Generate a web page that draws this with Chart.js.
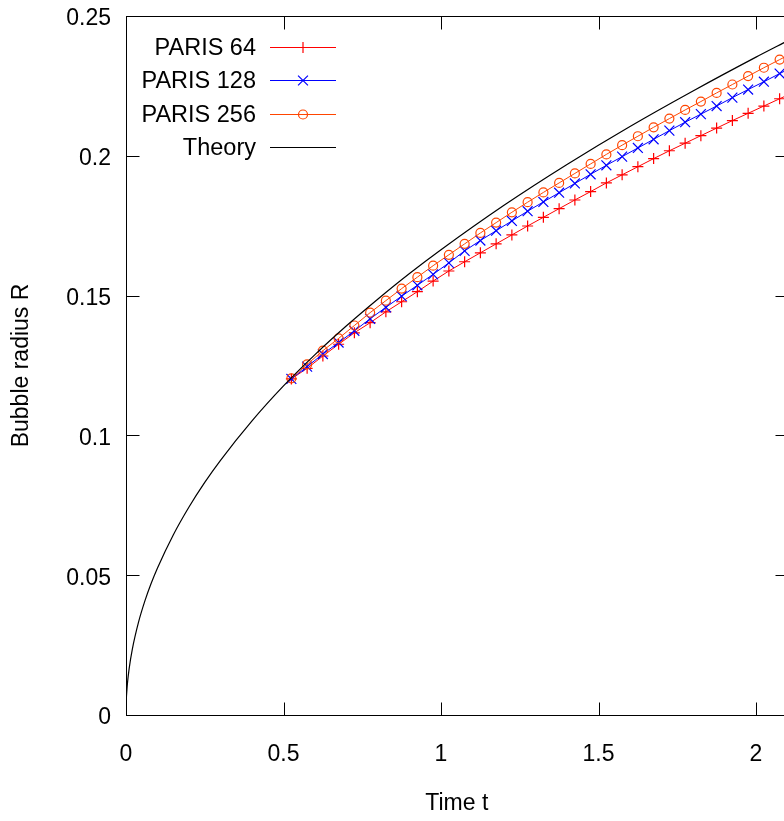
<!DOCTYPE html>
<html>
<head>
<meta charset="utf-8">
<title>Bubble radius</title>
<script src="https://cdn.jsdelivr.net/npm/chart.js@4.4.1/dist/chart.umd.min.js"></script>
<style>
  html, body { margin: 0; padding: 0; background: #fff; overflow: hidden; }
  #wrap { width: 800px; height: 821px; }
</style>
</head>
<body>
<div id="wrap"><canvas id="chart"></canvas></div>
<script>
// simulation output times (same for all three resolutions)
const simTimes = [0.525, 0.575, 0.625, 0.675, 0.725, 0.775, 0.825, 0.875, 0.925, 0.975,
  1.025, 1.075, 1.125, 1.175, 1.225, 1.275, 1.325, 1.375, 1.425, 1.475,
  1.525, 1.575, 1.625, 1.675, 1.725, 1.775, 1.825, 1.875, 1.925, 1.975,
  2.025, 2.075, 2.125];

const paris64 = [0.1202, 0.1240, 0.1284, 0.1326, 0.1367, 0.1403, 0.1442, 0.1478, 0.1514, 0.1552,
  0.1588, 0.1621, 0.1653, 0.1685, 0.1717, 0.1749, 0.1780, 0.1811, 0.1842, 0.1872,
  0.1903, 0.1932, 0.1961, 0.1990, 0.2018, 0.2045, 0.2072, 0.2099, 0.2126, 0.2152,
  0.2178, 0.2204, 0.2230];

const paris128 = [0.1202, 0.1246, 0.1291, 0.1332, 0.1374, 0.1417, 0.1458, 0.1498, 0.1537, 0.1576,
  0.1617, 0.1660, 0.1697, 0.1732, 0.1767, 0.1802, 0.1835, 0.1868, 0.1901, 0.1934,
  0.1966, 0.1997, 0.2028, 0.2059, 0.2090, 0.2120, 0.2149, 0.2178, 0.2208, 0.2237,
  0.2265, 0.2294, 0.2322];

const paris256 = [0.1204, 0.1254, 0.1303, 0.1347, 0.1393, 0.1439, 0.1482, 0.1525, 0.1566, 0.1607,
  0.1646, 0.1685, 0.1724, 0.1761, 0.1798, 0.1834, 0.1869, 0.1903, 0.1937, 0.1971,
  0.2005, 0.2038, 0.2070, 0.2102, 0.2133, 0.2164, 0.2194, 0.2225, 0.2255, 0.2285,
  0.2315, 0.2344, 0.2373];

// theory curve
const theoryTimes = [0, 0.001, 0.003, 0.005, 0.01, 0.02, 0.04, 0.06, 0.08, 0.1, 0.15, 0.2, 0.25,
  0.3, 0.4, 0.5, 0.6, 0.7, 0.8, 0.9, 1.0, 1.2, 1.4, 1.6, 1.8, 2.0, 2.1];
const theoryRadius = [0, 0.0053, 0.0091, 0.0118, 0.0166, 0.0235, 0.0333, 0.0408, 0.0471, 0.0526, 0.0644, 0.0744, 0.0832,
  0.0911, 0.1052, 0.1177, 0.1289, 0.1392, 0.1488, 0.1579, 0.1664, 0.1823, 0.1969, 0.2105, 0.2232, 0.2353, 0.2411];

const xTicks = [0, 0.5, 1, 1.5, 2];
const yTicks = [0, 0.05, 0.1, 0.15, 0.2, 0.25];

function pairs(xs, ys) {
  return xs.map((x, i) => ({ x: x, y: ys[i] }));
}

const FONT = "'Liberation Sans', Arial, sans-serif";
Chart.defaults.font.family = FONT;
Chart.defaults.font.size = 23;
Chart.defaults.color = "#000";

// gnuplot-like frame with inward ticks, and the key in the top left corner
const framePlugin = {
  id: "frame",
  afterDraw(chart) {
    const { ctx, chartArea: a, scales } = chart;
    const L = Math.round(a.left) + 0.5, R = Math.round(a.right) + 0.5;
    const T = Math.round(a.top) + 0.5, B = Math.round(a.bottom) + 0.5;
    ctx.save();
    ctx.strokeStyle = "#000";
    ctx.lineWidth = 1;
    ctx.strokeRect(L, T, R - L, B - T);
    ctx.beginPath();
    xTicks.forEach(v => {
      const px = Math.round(scales.x.getPixelForValue(v)) + 0.5;
      ctx.moveTo(px, B); ctx.lineTo(px, B - 13);
      ctx.moveTo(px, T); ctx.lineTo(px, T + 13);
    });
    yTicks.forEach(v => {
      const py = Math.round(scales.y.getPixelForValue(v)) + 0.5;
      ctx.moveTo(L, py); ctx.lineTo(L + 13, py);
      ctx.moveTo(R, py); ctx.lineTo(R - 13, py);
    });
    ctx.stroke();

    // key
    ctx.font = "23.5px " + FONT;
    ctx.textAlign = "right";
    ctx.textBaseline = "middle";
    chart.data.datasets.forEach((ds, i) => {
      const y = Math.round(47 + i * 33.4) + 0.5;
      ctx.fillStyle = "#000";
      ctx.fillText(ds.label, 256, y + 1);
      ctx.strokeStyle = ds.borderColor;
      ctx.lineWidth = 1;
      ctx.beginPath();
      ctx.moveTo(270, y); ctx.lineTo(336, y);
      ctx.stroke();
      if (ds.pointRadius > 0) {
        ctx.fillStyle = "rgba(0,0,0,0)";
        ctx.lineWidth = ds.pointBorderWidth;
        Chart.helpers.drawPoint(ctx, {
          pointStyle: ds.pointStyle, radius: ds.pointRadius,
          borderWidth: ds.pointBorderWidth, rotation: 0
        }, 303, y);
      }
    });
    ctx.restore();
  }
};

new Chart(document.getElementById("chart"), {
  type: "line",
  data: {
    datasets: [
      {
        label: "PARIS 64",
        data: pairs(simTimes, paris64),
        borderColor: "#ff0000",
        borderWidth: 1,
        pointStyle: "cross",
        pointRadius: 5.5,
        pointBorderWidth: 1.2,
        pointBorderColor: "#ff0000",
        pointBackgroundColor: "rgba(0,0,0,0)",
        order: 4
      },
      {
        label: "PARIS 128",
        data: pairs(simTimes, paris128),
        borderColor: "#0000ff",
        borderWidth: 1,
        pointStyle: "crossRot",
        pointRadius: 7,
        pointBorderWidth: 1.2,
        pointBorderColor: "#0000ff",
        pointBackgroundColor: "rgba(0,0,0,0)",
        order: 3
      },
      {
        label: "PARIS 256",
        data: pairs(simTimes, paris256),
        borderColor: "#ff4500",
        borderWidth: 1,
        pointStyle: "circle",
        pointRadius: 4.5,
        pointBorderWidth: 1.2,
        pointBorderColor: "#ff4500",
        pointBackgroundColor: "rgba(0,0,0,0)",
        order: 2
      },
      {
        label: "Theory",
        data: pairs(theoryTimes, theoryRadius),
        borderColor: "#000000",
        borderWidth: 1.2,
        pointRadius: 0,
        cubicInterpolationMode: "monotone",
        order: 1
      }
    ]
  },
  options: {
    responsive: true,
    maintainAspectRatio: false,
    animation: false,
    layout: { padding: { top: 16, right: 12.5, bottom: 0, left: 0 } },
    plugins: {
      legend: { display: false },
      tooltip: { enabled: false }
    },
    scales: {
      x: {
        type: "linear",
        min: 0,
        max: 2.1,
        afterBuildTicks: s => { s.ticks = xTicks.map(v => ({ value: v })); },
        afterFit: s => { s.height = 106; s.paddingLeft = 0; s.paddingRight = 0; },
        grid: { display: false, drawTicks: false },
        border: { display: false },
        ticks: { padding: 26, maxRotation: 0, callback: v => String(v) },
        title: { display: true, text: "Time t", padding: { top: 0, bottom: 4 } }
      },
      y: {
        type: "linear",
        min: 0,
        max: 0.25,
        afterBuildTicks: s => { s.ticks = yTicks.map(v => ({ value: v })); },
        afterFit: s => { s.width = 126; s.paddingTop = 0; s.paddingBottom = 0; },
        grid: { display: false, drawTicks: false },
        border: { display: false },
        ticks: { padding: 15, labelOffset: 3, callback: v => String(v) },
        title: { display: true, text: "Bubble radius R", padding: { top: 8, bottom: 0 } }
      }
    }
  },
  plugins: [framePlugin]
});
</script>
</body>
</html>
